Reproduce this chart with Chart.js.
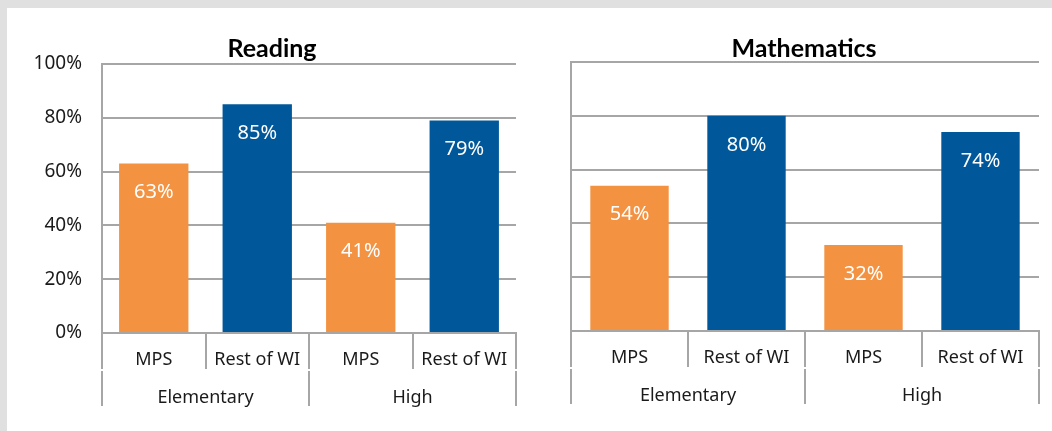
<!DOCTYPE html>
<html>
<head>
<meta charset="utf-8">
<script src="https://cdn.jsdelivr.net/npm/chart.js@4.4.1/dist/chart.umd.min.js"></script>
<style>
  body { margin: 0; background: #e0e0e0; width: 1052px; height: 431px; overflow: hidden; }
  .panel { position: absolute; left: 7px; top: 8px; width: 1045px; height: 423px; background: #fff; }
  #readingWrap { position: absolute; left: 0; top: 0; width: 536px; height: 423px; }
  #mathWrap { position: absolute; left: 536px; top: 0; width: 509px; height: 423px; }
</style>
</head>
<body>
<div class="panel">
  <div id="readingWrap"><canvas id="readingCanvas" width="536" height="423"></canvas></div>
  <div id="mathWrap"><canvas id="mathCanvas" width="509" height="423"></canvas></div>
</div>
<script>
const groups = ['MPS', 'Rest of WI', 'MPS', 'Rest of WI'];
const levels = ['Elementary', 'High'];
const readingValues = [63, 85, 41, 79];
const mathValues = [54, 80, 32, 74];
const yTicks = [0, 20, 40, 60, 80, 100];

const orange = '#f39240';
const blue = '#00589b';
const lineGray = '#a6a6a6';
const textColor = '#1a1a1a';

// white value labels inside the top of each bar
const valueLabels = {
    id: 'valueLabels',
    afterDatasetsDraw(chart) {
        const ctx = chart.ctx;
        const meta = chart.getDatasetMeta(0);
        const values = chart.data.datasets[0].data;
        ctx.save();
        ctx.fillStyle = '#ffffff';
        ctx.font = '20px "Noto Sans"';
        ctx.textAlign = 'center';
        ctx.textBaseline = 'middle';
        meta.data.forEach((bar, i) => {
            ctx.fillText(values[i] + '%', bar.x, bar.y + 29);
        });
        ctx.restore();
    }
};

// vertical dividers between the category labels, both rows
const categoryDividers = {
    id: 'categoryDividers',
    afterDraw(chart) {
        const ctx = chart.ctx;
        ctx.save();
        ctx.strokeStyle = lineGray;
        ctx.lineWidth = 2;
        ['x', 'x2'].forEach(id => {
            const scale = chart.scales[id];
            const n = scale.getLabels().length;
            const step = scale.width / n;
            for (let i = 0; i <= n; i++) {
                const x = Math.round(scale.left + i * step);
                ctx.beginPath();
                ctx.moveTo(x, scale.top + 1);
                ctx.lineTo(x, scale.bottom - 1);
                ctx.stroke();
            }
        });
        ctx.restore();
    }
};

function makeChart(canvasId, title, values, opts) {
    const ctx = document.getElementById(canvasId).getContext('2d');
    return new Chart(ctx, {
        type: 'bar',
        data: {
            labels: groups,
            datasets: [{
                data: values,
                backgroundColor: [orange, blue, orange, blue],
                borderWidth: 0,
                categoryPercentage: 1,
                barPercentage: 0.67
            }]
        },
        options: {
            responsive: false,
            animation: false,
            layout: { padding: opts.padding },
            plugins: {
                legend: { display: false },
                tooltip: { enabled: false },
                title: {
                    display: true,
                    text: title,
                    color: '#000',
                    font: { family: 'Lato', size: 25, weight: 'bold' },
                    padding: { top: 0, bottom: opts.titleGap }
                }
            },
            scales: {
                y: {
                    min: 0,
                    max: 100,
                    afterBuildTicks(scale) {
                        scale.ticks = yTicks.map(v => ({ value: v }));
                    },
                    afterFit(scale) { scale.width = opts.yWidth; },
                    grid: { color: lineGray, lineWidth: 2, drawTicks: false },
                    border: { display: true, color: lineGray, width: 2 },
                    ticks: {
                        display: opts.showY,
                        padding: 20,
                        color: textColor,
                        font: { family: 'Noto Sans', size: 19 },
                        callback: v => v + '%'
                    }
                },
                x: {
                    grid: { drawOnChartArea: false, drawTicks: false },
                    border: { display: true, color: lineGray, width: 2 },
                    afterFit(scale) { scale.height = 37; },
                    ticks: {
                        padding: 14,
                        color: textColor,
                        maxRotation: 0,
                        autoSkip: false,
                        font: { family: 'Noto Sans', size: 18, lineHeight: 1.444 }
                    }
                },
                x2: {
                    type: 'category',
                    position: 'bottom',
                    labels: levels,
                    offset: true,
                    grid: { drawOnChartArea: false, drawTicks: false },
                    border: { display: false },
                    afterFit(scale) { scale.height = 37; },
                    ticks: {
                        padding: 15,
                        color: textColor,
                        maxRotation: 0,
                        font: { family: 'Noto Sans', size: 18, lineHeight: 1.444 }
                    }
                }
            }
        },
        plugins: [valueLabels, categoryDividers]
    });
}

makeChart('readingCanvas', 'Reading', readingValues, {
    padding: { left: 21, right: 27, top: 26, bottom: 24 },
    titleGap: 0,
    yWidth: 74,
    showY: true
});

makeChart('mathCanvas', 'Mathematics', mathValues, {
    padding: { left: 26, right: 13, top: 26, bottom: 26 },
    titleGap: -2,
    yWidth: 2,
    showY: false
});
</script>
</body>
</html>
